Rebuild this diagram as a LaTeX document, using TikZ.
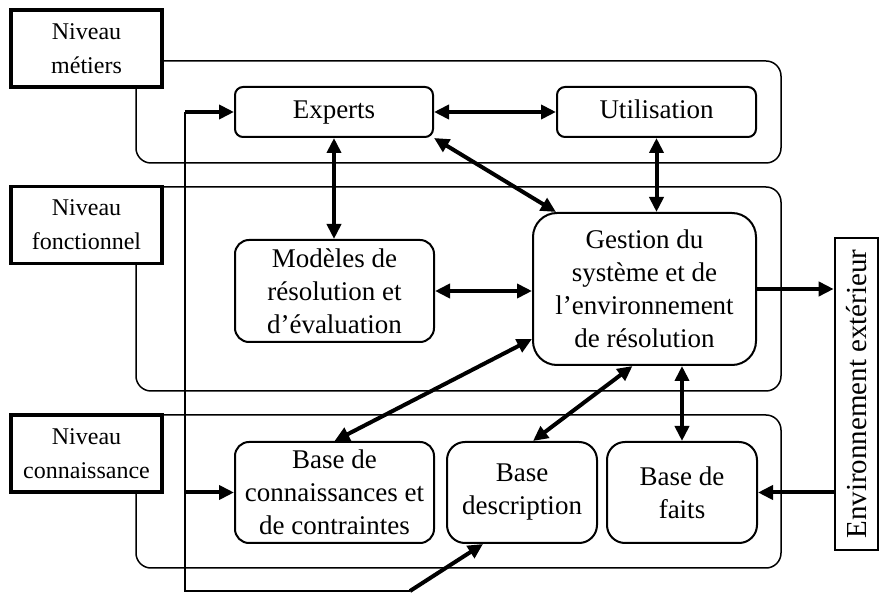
\documentclass[tikz,border=0pt]{standalone}
\usepackage{fontspec}
\setmainfont{Liberation Serif}
\usetikzlibrary{arrows.meta}

\tikzset{
  niveau/.style={draw, line width=1.6pt, fill=white, minimum width=75.5pt, minimum height=38.5pt, align=center, inner sep=0pt, font=\fontsize{12}{17}\selectfont},
  bloc/.style={draw, line width=1pt, fill=white, align=center, inner sep=0pt, font=\fontsize{13.5}{16.5}\selectfont},
  couche/.style={line width=0.75pt, rounded corners=7.5pt},
  fleche/.style={line width=2pt, -{Triangle[length=7.5pt,width=7pt]}},
  dfleche/.style={line width=2pt, {Triangle[length=7.5pt,width=7pt]}-{Triangle[length=7.5pt,width=7pt]}},
}

\begin{document}
\begin{tikzpicture}[x=0.5pt,y=-0.5pt]
	\useasboundingbox (0,0) rectangle (880,593);
	% les trois niveaux
	\draw[couche] (136,61) rectangle (781,163);
	\draw[couche] (136,187) rectangle (781,391);
	\draw[couche] (136,415) rectangle (781,568);
	\node[niveau] (metiers) at (86.5,48.5) {Niveau\\métiers};
	\node[niveau] (fonctionnel) at (86.5,225) {Niveau\\fonctionnel};
	\node[niveau] (connaissance) at (86.5,453.5) {Niveau\\connaissance};

	% les blocs
	\node[bloc, rounded corners=4pt, minimum width=99pt, minimum height=25pt] (experts) at (334,112) {\strut Experts};
	\node[bloc, rounded corners=4pt, minimum width=99.5pt, minimum height=25pt] (utilisation) at (656.5,112) {\strut Utilisation};
	\node[bloc, rounded corners=7pt, minimum width=99.5pt, minimum height=51pt] (modeles) at (334.5,291) {Modèles de\\résolution et\\d’évaluation};
	\node[bloc, rounded corners=12pt, minimum width=111.5pt, minimum height=76pt] (gestion) at (644.5,289) {Gestion du\\système et de\\l’environnement\\de résolution};
	\node[bloc, rounded corners=7pt, minimum width=99.5pt, minimum height=50.5pt] (bconn) at (334.5,492.5) {Base de\\connaissances et\\de contraintes};
	\node[bloc, rounded corners=9pt, minimum width=75pt, minimum height=50.5pt] (bdesc) at (522,492.5) {Base\\description};
	\node[bloc, rounded corners=9pt, minimum width=75pt, minimum height=50.5pt] (bfaits) at (682,492.5) {Base de\\faits};
	\node[draw, line width=1.3pt, rotate=90, minimum width=156pt, minimum height=21.5pt, inner sep=0pt, font=\fontsize{14.5}{17}\selectfont] (env) at (856.5,394) {Environnement extérieur};

	% la ligne de gauche
	\coordinate (haut) at (185,112);
	\coordinate (bas) at (185,591);
	\coordinate (coude) at (410,591);
	\draw[line width=1pt] (haut) -- (bas) -- (coude);
	\draw[fleche] (haut) -- (experts.west);
	\draw[fleche] (haut |- bconn.west) -- (bconn.west);
	\draw[fleche] (coude) -- ([xshift=-19.5pt]bdesc.south);

	% les fleches
	\draw[dfleche] (experts.east) -- (utilisation.west);
	\draw[dfleche] (experts.south) -- (experts.south |- modeles.north);
	\draw[dfleche] (utilisation.south) -- (utilisation.south |- gestion.north);
	\draw[dfleche] (experts.south east) -- ([xshift=12pt]gestion.north west);
	\draw[dfleche] (modeles.east) -- (modeles.east -| gestion.west);
	\draw[fleche] (gestion.east) -- (gestion.east -| env.north);
	\draw[fleche] (env.north |- bfaits.east) -- (bfaits.east);
	\draw[dfleche] ([yshift=13.5pt]gestion.south west) -- (bconn.north);
	\draw[dfleche] ([xshift=-6pt]gestion.south) -- ([xshift=5.5pt]bdesc.north);
	\draw[dfleche] (bfaits.north) -- (bfaits.north |- gestion.south);
\end{tikzpicture}
\end{document}
